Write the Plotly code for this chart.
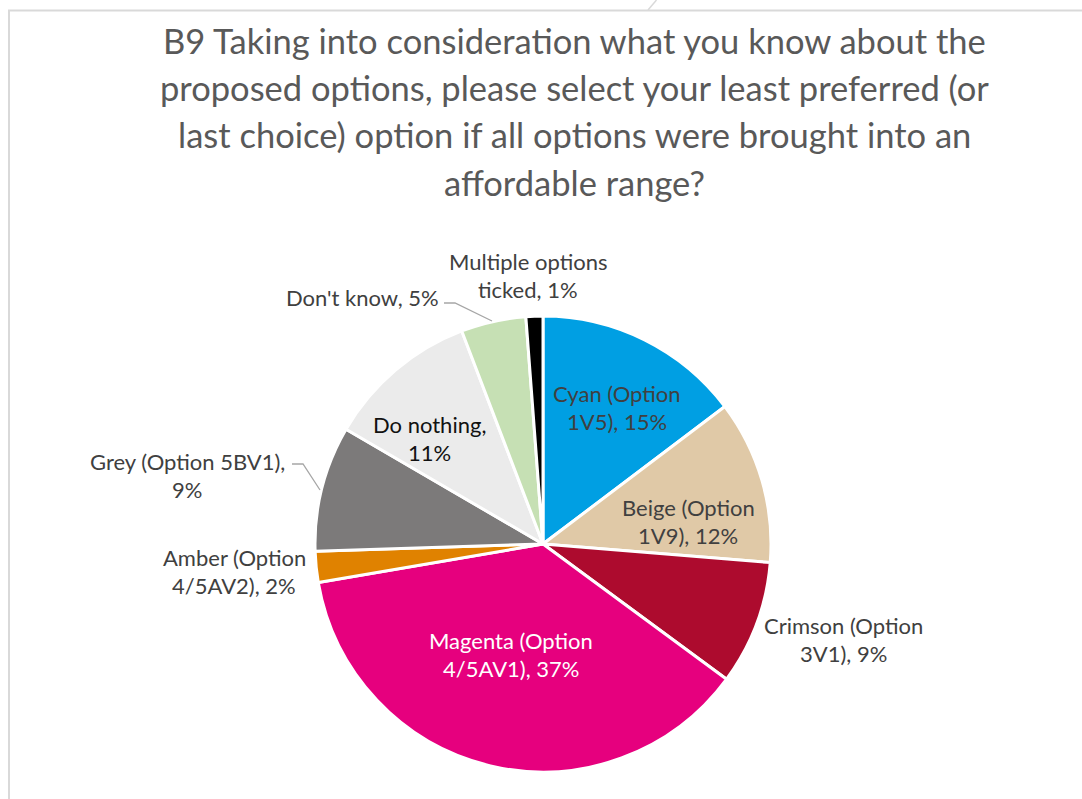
import plotly.graph_objects as go

W, H = 1082, 799

# Survey answers (share of respondents, %)
categories = [
    "Cyan (Option 1V5)",
    "Beige (Option 1V9)",
    "Crimson (Option 3V1)",
    "Magenta (Option 4/5AV1)",
    "Amber (Option 4/5AV2)",
    "Grey (Option 5BV1)",
    "Do nothing",
    "Don't know",
    "Multiple options ticked",
]
values = [14.7, 11.6, 8.8, 37.2, 2.2, 8.9, 10.8, 4.6, 1.2]
colors = ["#009FE3", "#E0C9A7", "#AD0B2E", "#E6007E", "#E08200",
          "#7C7A7A", "#EBEBEB", "#C6E0B4", "#000000"]

title_lines = [
    "B9 Taking into consideration what you know about the",
    "proposed options, please select your least preferred (or",
    "last choice) option if all options were brought into an",
    "affordable range?",
]

# label line breaks, anchor (px) and text colour per slice
label_lines = [
    ["Cyan (Option", "1V5), {p}"],
    ["Beige (Option", "1V9), {p}"],
    ["Crimson (Option", "3V1), {p}"],
    ["Magenta (Option", "4/5AV1), {p}"],
    ["Amber (Option", "4/5AV2), {p}"],
    ["Grey (Option 5BV1),", "{p}"],
    ["Do nothing,", "{p}"],
    ["Don't know, {p}"],
    ["Multiple options", "ticked, {p}"],
]
label_pos = [(617, 393), (688, 507), (843, 625), (511, 640), (234, 557),
             (187, 461), (429, 424), (362, 298), (528, 261)]
label_color = ["#404040", "#404040", "#404040", "#FFFFFF", "#404040",
               "#404040", "#111111", "#404040", "#404040"]

LINE_GAP = 28.8
FONT = "Lato, 'Open Sans', sans-serif"


def px(x):
    return x / W


def py(y):
    return 1 - y / H


# pie placement: centre (543, 544), radius 228 px
cx, cy, r = 543, 544, 228

fig = go.Figure(go.Pie(
    labels=categories,
    values=values,
    sort=False,
    direction="clockwise",
    rotation=0,
    marker=dict(colors=colors, line=dict(color="#FFFFFF", width=3)),
    textinfo="none",
    hoverinfo="label+percent",
    showlegend=False,
    domain=dict(x=[px(cx - r), px(cx + r)], y=[py(cy + r), py(cy - r)]),
))

annotations = []
for i, line in enumerate(title_lines):
    annotations.append(dict(
        x=px(574), y=py(41 + i * 47), xref="paper", yref="paper",
        text=line, showarrow=False, xanchor="center", yanchor="middle",
        font=dict(family=FONT, size=34.5, color="#595959"),
    ))

total = sum(values)
for lines, (lx, ly), col, v in zip(label_lines, label_pos, label_color, values):
    pct = f"{round(v / total * 100):.0f}%"
    for j, t in enumerate(lines):
        annotations.append(dict(
            x=px(lx), y=py(ly + j * LINE_GAP), xref="paper", yref="paper",
            text=t.format(p=pct), showarrow=False,
            xanchor="center", yanchor="middle",
            font=dict(family=FONT, size=22, color=col),
        ))

# leader lines for the small slices
leaders = [
    [(444, 303), (455, 303), (492, 321)],
    [(292, 464), (303, 464), (320, 490)],
]
shapes = []
for pts in leaders:
    path = "M " + " L ".join(f"{px(x)},{py(y)}" for x, y in pts)
    shapes.append(dict(type="path", path=path, xref="paper", yref="paper",
                       line=dict(color="#A6A6A6", width=1.3)))

# chart frame
shapes.append(dict(type="line", xref="paper", yref="paper",
                   x0=px(8), x1=px(1082), y0=py(10.5), y1=py(10.5),
                   line=dict(color="#D9D9D9", width=2)))
shapes.append(dict(type="line", xref="paper", yref="paper",
                   x0=px(9), x1=px(9), y0=py(10), y1=py(799),
                   line=dict(color="#D9D9D9", width=2)))
shapes.append(dict(type="line", xref="paper", yref="paper",
                   x0=px(648), x1=px(656.5), y0=py(10), y1=py(0),
                   line=dict(color="#D9D9D9", width=1.5)))

fig.update_layout(
    width=W, height=H,
    margin=dict(l=0, r=0, t=0, b=0),
    paper_bgcolor="#FFFFFF",
    plot_bgcolor="#FFFFFF",
    annotations=annotations,
    shapes=shapes,
)

fig.write_html("out.html")
